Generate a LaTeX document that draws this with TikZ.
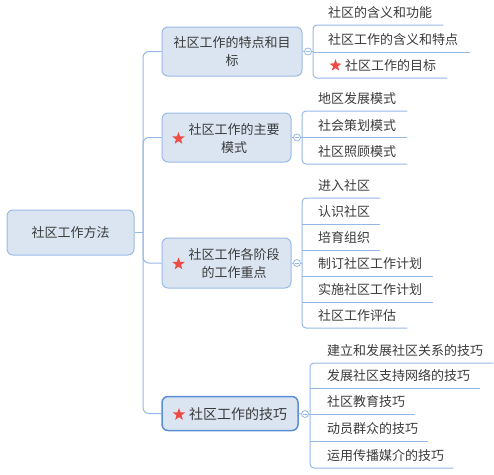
\documentclass[tikz,border=0pt]{standalone}
\usepackage{fontspec}
\usetikzlibrary{shapes.geometric}
\newfontfamily\cjk{Noto Sans CJK SC}
\definecolor{boxfill}{HTML}{DBE5F2}
\definecolor{boxline}{HTML}{9BBBE6}
\definecolor{boxdark}{HTML}{5B8ED6}
\definecolor{connc}{HTML}{96B8E6}
\definecolor{txt}{HTML}{3A3A3A}
\definecolor{starred}{HTML}{EE4B45}
\begin{document}
\begin{tikzpicture}[x=1pt,y=-1pt,
  conn/.style={draw=connc, line width=1pt},
  topic/.style={draw=boxline, fill=boxfill, line width=1pt, rounded corners=6pt, inner sep=0pt,
    font=\cjk\fontsize{13}{18}\selectfont, text=txt, align=center},
  ttext/.style={font=\cjk\fontsize{13}{18}\selectfont, text=txt, align=center, inner sep=0pt},
  starn/.style={star, star points=5, star point ratio=2.4, fill=starred, draw=none,
    minimum size=13pt, inner sep=0pt},
  kid/.style={anchor=south west, font=\cjk\fontsize{13}{16}\selectfont, text=txt,
    inner xsep=0pt, inner ysep=0pt, minimum height=24pt, align=left},
  tog/.style={circle, draw=connc, fill=white, line width=0.8pt, minimum size=7pt, inner sep=0pt},
]
\useasboundingbox (0,0) rectangle (494,474);

% root
\node[topic, minimum width=127pt, minimum height=45pt] (root) at (70.5,232.5) {社区工作方法};
\coordinate (j) at (143,232.5);

% branches
\node[topic, minimum width=140pt, minimum height=49pt] (b1) at (232,51.5) {社区工作的特点和目\\标};
\node[topic, minimum width=129pt, minimum height=49pt] (b2) at (226.5,137.5) {};
\node[ttext] (b2t) at (234,139) {社区工作的主要\\模式};
\node[starn] (b2s) at (178.5,138.5) {};
\node[topic, minimum width=129pt, minimum height=50pt] (b3) at (226.5,263) {};
\node[ttext] (b3t) at (234,263.5) {社区工作各阶段\\的工作重点};
\node[starn] (b3s) at (178.5,264) {};
\node[topic, draw=boxdark, line width=1.5pt, minimum width=136pt, minimum height=34pt] (b4) at (230,413.5) {};
\node[ttext, font=\cjk\fontsize{14}{18}\selectfont] (b4t) at (238,414) {社区工作的技巧};
\node[starn] (b4s) at (179,414.5) {};

\draw[conn] (root.east) -- (j);
\draw[conn, rounded corners=6pt] (j) |- (b1.west);
\draw[conn, rounded corners=6pt] (j) |- (b2.west);
\draw[conn, rounded corners=6pt] (j) |- (b3.west);
\draw[conn, rounded corners=6pt] (j) |- (b4.west);

% children of b1
\node[kid, text width=130pt] (k11) at (313,25) {\hspace*{15pt}社区的含义和功能};
\node[kid, text width=157pt] (k12) at (313,52) {\hspace*{15pt}社区工作的含义和特点};
\node[kid, text width=134pt] (k13) at (313,78) {\hspace*{32pt}社区工作的目标};
\node[starn, minimum size=12.5pt] (k13s) at (335.5,65.5) {};
% children of b2
\node[kid, text width=105pt] (k21) at (302,111) {\hspace*{16pt}地区发展模式};
\node[kid, text width=105pt] (k22) at (302,137.5) {\hspace*{16pt}社会策划模式};
\node[kid, text width=105pt] (k23) at (302,164) {\hspace*{16pt}社区照顾模式};
% children of b3
\node[kid, text width=78pt] (k31) at (302,198) {\hspace*{16pt}进入社区};
\node[kid, text width=78pt] (k32) at (302,224) {\hspace*{16pt}认识社区};
\node[kid, text width=78pt] (k33) at (302,250) {\hspace*{16pt}培育组织};
\node[kid, text width=131pt] (k34) at (302,276) {\hspace*{16pt}制订社区工作计划};
\node[kid, text width=131pt] (k35) at (302,302) {\hspace*{16pt}实施社区工作计划};
\node[kid, text width=105pt] (k36) at (302,328) {\hspace*{16pt}社区工作评估};
% children of b4
\node[kid, text width=183pt] (k41) at (310,363) {\hspace*{17pt}建立和发展社区关系的技巧};
\node[kid, text width=170pt] (k42) at (310,388) {\hspace*{17pt}发展社区支持网络的技巧};
\node[kid, text width=105pt] (k43) at (310,414) {\hspace*{17pt}社区教育技巧};
\node[kid, text width=118pt] (k44) at (310,441) {\hspace*{17pt}动员群众的技巧};
\node[kid, text width=143pt] (k45) at (310,468) {\hspace*{17pt}运用传播媒介的技巧};

% toggles
\node[tog] (t1) at (308,51.5) {};
\node[tog] (t2) at (297,137.5) {};
\node[tog] (t3) at (297,263) {};
\node[tog] (t4) at (305,414) {};
\foreach \b/\t/\k in {b1/t1/k11, b2/t2/k21, b3/t3/k31, b4/t4/k41}{
  \draw[conn] (\b.east) -- (\t.west);
  \draw[conn] (\t.east) -- (\t.east -| \k.south west);
  \draw[draw=connc, line width=0.8pt] ([xshift=-2pt]\t.center) -- ([xshift=2pt]\t.center);
}

% brackets and underlines
\draw[conn, rounded corners=4pt] (k11.south east) -- (k11.south west) -- (k13.south west) -- (k13.south east);
\draw[conn] (k12.south west) -- (k12.south east);
\draw[conn, rounded corners=4pt] (k21.south east) -- (k21.south west) -- (k23.south west) -- (k23.south east);
\draw[conn] (k22.south west) -- (k22.south east);
\draw[conn, rounded corners=4pt] (k31.south east) -- (k31.south west) -- (k36.south west) -- (k36.south east);
\foreach \k in {k32,k33,k34,k35}{\draw[conn] (\k.south west) -- (\k.south east);}
\draw[conn, rounded corners=4pt] (k41.south east) -- (k41.south west) -- (k45.south west) -- (k45.south east);
\foreach \k in {k42,k43,k44}{\draw[conn] (\k.south west) -- (\k.south east);}
\end{tikzpicture}
\end{document}
